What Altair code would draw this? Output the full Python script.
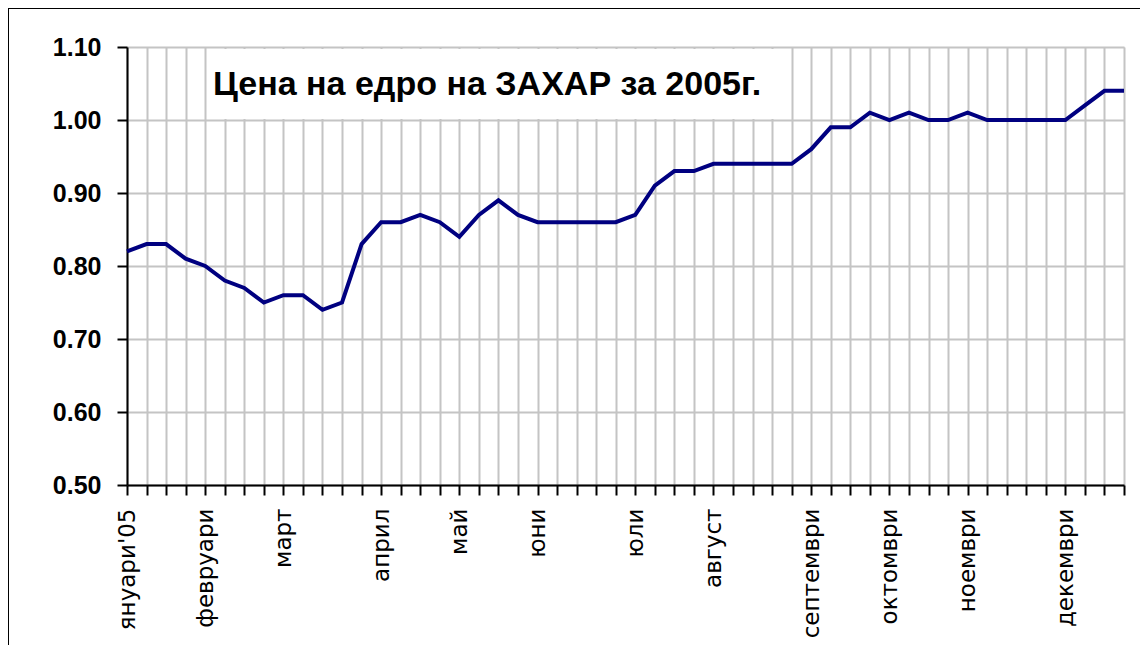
import json
import altair as alt
import pandas as pd

title_text = "Цена на едро на ЗАХАР за 2005г."
weeks = list(range(52))
prices = [0.82, 0.83, 0.83, 0.81, 0.80, 0.78, 0.77, 0.75, 0.76, 0.76, 0.74, 0.75,
          0.83, 0.86, 0.86, 0.87, 0.86, 0.84, 0.87, 0.89, 0.87, 0.86, 0.86, 0.86,
          0.86, 0.86, 0.87, 0.91, 0.93, 0.93, 0.94, 0.94, 0.94, 0.94, 0.94, 0.96,
          0.99, 0.99, 1.01, 1.00, 1.01, 1.00, 1.00, 1.01, 1.00, 1.00, 1.00, 1.00,
          1.00, 1.02, 1.04, 1.04]
month_weeks = [0, 4, 8, 13, 17, 21, 26, 30, 35, 39, 43, 48]
month_names = ["януари'05", "февруари", "март", "април", "май", "юни", "юли",
               "август", "септември", "октомври", "ноември", "декември"]
y_ticks = [0.5, 0.6, 0.7, 0.8, 0.9, 1.0, 1.1]

week_labels = [""] * len(weeks)
for w, n in zip(month_weeks, month_names):
    week_labels[w] = n
label_expr = json.dumps(week_labels, ensure_ascii=False) + "[datum.value]"

df = pd.DataFrame({"week": weeks, "price": prices})
one = pd.DataFrame({"k": [0]})

x_enc = alt.X(
    "week:Q",
    scale=alt.Scale(domain=[0, 51], nice=False, zero=False),
    axis=alt.Axis(
        values=weeks, labelExpr=label_expr, title=None, grid=True,
        gridColor="#c4c4c4", gridWidth=2,
        tickSize=10, tickWidth=2, tickColor="black",
        domainColor="black", domainWidth=2,
        labelAngle=270, labelAlign="right", labelBaseline="middle",
        labelPadding=13, labelFont="DejaVu Sans", labelFontSize=23,
        labelColor="black", labelOverlap=False, labelFlush=False, labelBound=False,
    ),
)
y_enc = alt.Y(
    "price:Q",
    scale=alt.Scale(domain=[0.5, 1.1], nice=False, zero=False),
    axis=alt.Axis(
        values=y_ticks, format=".2f", title=None, grid=True,
        gridColor="#c4c4c4", gridWidth=2,
        tickSize=10, tickWidth=2, tickColor="black",
        domainColor="black", domainWidth=2,
        labelPadding=16, labelFont="Liberation Sans", labelFontSize=25,
        labelFontWeight="bold", labelColor="black",
    ),
)

base_line = alt.Chart(df).mark_line(color="#000080", strokeWidth=4).encode(x=x_enc, y=y_enc)

title_box = alt.Chart(one).mark_rect(color="white").encode(
    x=alt.value(82), x2=alt.value(664), y=alt.value(2), y2=alt.value(72)
)
title_mark = alt.Chart(one).mark_text(
    align="left", baseline="alphabetic", font="Liberation Sans",
    fontSize=34, fontWeight="bold", color="black"
).encode(x=alt.value(86), y=alt.value(48), text=alt.value(title_text))

frame_top = alt.Chart(one).mark_rule(color="black", strokeWidth=2).encode(
    x=alt.value(-119), x2=alt.value(1013), y=alt.value(-39)
)
frame_left = alt.Chart(one).mark_rule(color="black", strokeWidth=2).encode(
    x=alt.value(-119), y=alt.value(-39), y2=alt.value(602)
)

chart = alt.layer(title_box, base_line, title_mark, frame_top, frame_left).properties(
    width=997, height=438,
    autosize=alt.AutoSizeParams(type="none"),
    padding={"left": 119, "top": 39, "right": 16, "bottom": 160},
).configure_view(stroke="black", strokeWidth=2).configure(background="white")

chart.save("out.html", embed_options={"renderer": "svg", "actions": False})
